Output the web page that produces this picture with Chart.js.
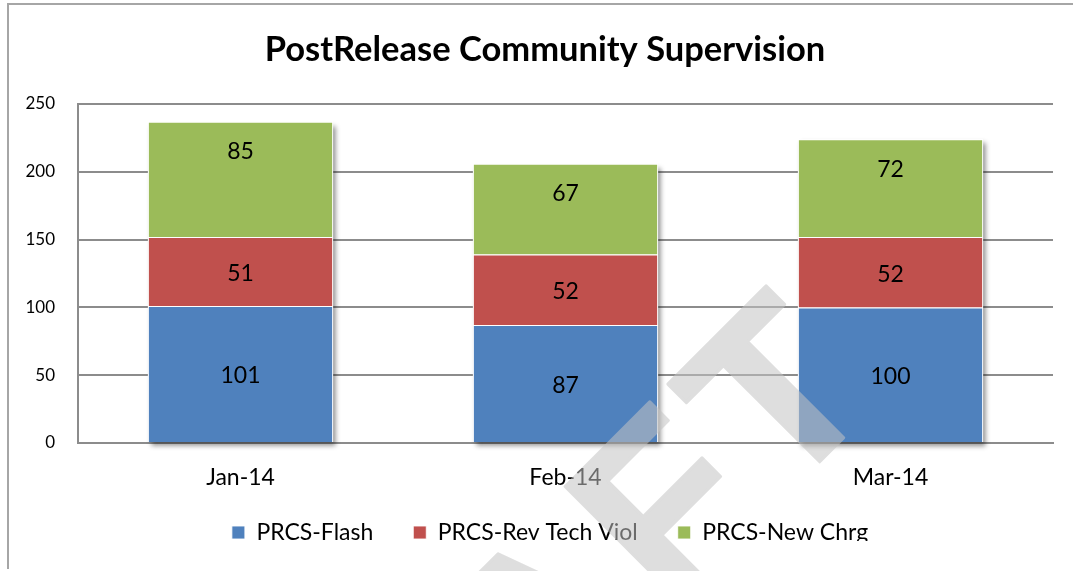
<!DOCTYPE html>
<html><head><meta charset="utf-8">
<script src="https://cdn.jsdelivr.net/npm/chart.js@4/dist/chart.umd.min.js"></script>
<style>html,body{margin:0;padding:0;background:#fff;overflow:hidden}</style>
</head><body><canvas id="c" width="1073" height="571"></canvas>
<script>
const categories = ['Jan-14', 'Feb-14', 'Mar-14'];
const seriesNames = ['PRCS-Flash', 'PRCS-Rev Tech Viol', 'PRCS-New Chrg'];
const prcsFlash = [101, 87, 100];
const prcsRevTechViol = [51, 52, 52];
const prcsNewChrg = [85, 67, 72];
const yTicks = [0, 50, 100, 150, 200, 250];
const chartTitle = 'PostRelease Community Supervision';
const watermarkText = 'DRAFT';

const FONT = 'Lato, "Open Sans", sans-serif';

const framePlugin = {
  id: 'frame',
  beforeDraw(chart) {
    const ctx = chart.ctx;
    ctx.save();
    ctx.fillStyle = '#fff';
    ctx.fillRect(0, 0, chart.width, chart.height);
    ctx.strokeStyle = '#a6a6a6';
    ctx.lineWidth = 2;
    ctx.beginPath();
    ctx.moveTo(8, 569);
    ctx.lineTo(8, 4);
    ctx.lineTo(chart.width, 4);
    ctx.stroke();
    ctx.restore();
  }
};

const titlePlugin = {
  id: 'centerTitle',
  afterDraw(chart, args, opts) {
    const ctx = chart.ctx;
    ctx.save();
    ctx.font = opts.font;
    ctx.fillStyle = opts.color;
    ctx.textAlign = 'center';
    ctx.textBaseline = 'middle';
    ctx.fillText(opts.text, opts.x, opts.y);
    ctx.restore();
  }
};

const legendShiftPlugin = {
  id: 'legendShift',
  afterLayout(chart, args, opts) {
    const l = chart.legend;
    if (!l) return;
    l.top += opts.dy; l.bottom += opts.dy;
    l.left += opts.dx; l.right += opts.dx;
  }
};

const shadowPlugin = {
  id: 'barShadow',
  beforeDatasetsDraw(chart) {
    const ctx = chart.ctx;
    const n = chart.data.labels.length;
    const last = chart.data.datasets.length - 1;
    for (let i = 0; i < n; i++) {
      const b = chart.getDatasetMeta(0).data[i];
      const t = chart.getDatasetMeta(last).data[i];
      if (!b || !t) continue;
      const x0 = b.x - b.width / 2;
      ctx.save();
      ctx.shadowColor = 'rgba(0,0,0,0.45)';
      ctx.shadowBlur = 5;
      ctx.shadowOffsetX = 3;
      ctx.shadowOffsetY = 4;
      ctx.fillStyle = '#fff';
      ctx.fillRect(x0, t.y, b.width, b.base - t.y);
      ctx.restore();
    }
  }
};

const valueLabelPlugin = {
  id: 'valueLabels',
  afterDatasetsDraw(chart, args, opts) {
    const ctx = chart.ctx;
    ctx.save();
    ctx.font = opts.font;
    ctx.fillStyle = opts.color;
    ctx.textAlign = 'center';
    ctx.textBaseline = 'middle';
    chart.data.datasets.forEach((ds, d) => {
      const meta = chart.getDatasetMeta(d);
      const off = opts.offsetFromTop[d];
      meta.data.forEach((el, i) => {
        const y = (off == null) ? (el.y + el.base) / 2 + opts.centerShift : el.y + off;
        ctx.fillText(String(ds.data[i]), el.x, y);
      });
    });
    ctx.restore();
  }
};

const watermarkPlugin = {
  id: 'watermark',
  afterDraw(chart, args, opts) {
    const off = document.createElement('canvas');
    off.width = chart.width; off.height = chart.height;
    const o = off.getContext('2d');
    o.save();
    o.rotate(-Math.PI / 4);
    o.font = 'bold 236px "Liberation Sans", Arial, sans-serif';
    o.textAlign = 'left';
    o.textBaseline = 'alphabetic';
    o.fillStyle = '#c4c4c4';
    o.strokeStyle = '#c4c4c4';
    o.lineWidth = 3;
    o.lineJoin = 'round';
    const chars = opts.text.split('');
    let u = opts.lastLetterU;
    for (let k = chars.length - 1; k >= 0; k--) {
      if (k < chars.length - 1) u -= o.measureText(chars[k]).width + opts.spacing;
      o.fillText(chars[k], u, opts.baselineV);
      o.strokeText(chars[k], u, opts.baselineV);
    }
    o.restore();
    const ctx = chart.ctx;
    ctx.save();
    ctx.globalAlpha = 0.55;
    ctx.drawImage(off, 0, 0);
    ctx.restore();
  }
};

new Chart(document.getElementById('c'), {
  type: 'bar',
  data: {
    labels: categories,
    datasets: [
      { label: seriesNames[0], data: prcsFlash, backgroundColor: '#4f81bd' },
      { label: seriesNames[1], data: prcsRevTechViol, backgroundColor: '#c0504d' },
      { label: seriesNames[2], data: prcsNewChrg, backgroundColor: '#9bbb59' }
    ]
  },
  options: {
    responsive: false,
    animation: false,
    events: [],
    devicePixelRatio: 1,
    datasets: {
      bar: {
        categoryPercentage: 1,
        barPercentage: 0.57,
        borderColor: 'rgba(255,255,255,0.85)',
        borderWidth: 1
      }
    },
    layout: { padding: { left: 0, right: 20, top: 104, bottom: 19 } },
    scales: {
      x: {
        stacked: true,
        grid: { display: false, drawTicks: false },
        border: { display: true, color: '#8c8c8c', width: 2 },
        ticks: { color: '#000', font: { family: FONT, size: 23 }, padding: 21 },
        afterFit(s) { s.height = 49; }
      },
      y: {
        stacked: true,
        min: 0,
        max: 250,
        afterBuildTicks(s) { s.ticks = yTicks.map(v => ({ value: v })); },
        grid: { color: '#8c8c8c', lineWidth: 2, drawTicks: false },
        border: { display: true, color: '#8c8c8c', width: 2 },
        ticks: { color: '#000', font: { family: FONT, size: 17 }, padding: 23 },
        afterFit(s) { s.width = 78; }
      }
    },
    plugins: {
      title: { display: false },
      centerTitle: { text: chartTitle, font: 'bold 34.5px ' + FONT, color: '#000', x: 545, y: 50 },
      legend: {
        position: 'bottom',
        maxHeight: 60,
        labels: {
          color: '#000',
          font: { family: FONT, size: 23 },
          boxWidth: 13,
          boxHeight: 13,
          padding: 40
        }
      },
      legendShift: { dx: 23.5, dy: -11 },
      tooltip: { enabled: false },
      valueLabels: { font: '23px ' + FONT, color: '#000', offsetFromTop: [null, null, 30], centerShift: 2 },
      watermark: { text: watermarkText, lastLetterU: 198, baselineV: 906, spacing: 14 }
    }
  },
  plugins: [framePlugin, shadowPlugin, valueLabelPlugin, titlePlugin, legendShiftPlugin, watermarkPlugin]
});
</script>
</body></html>
